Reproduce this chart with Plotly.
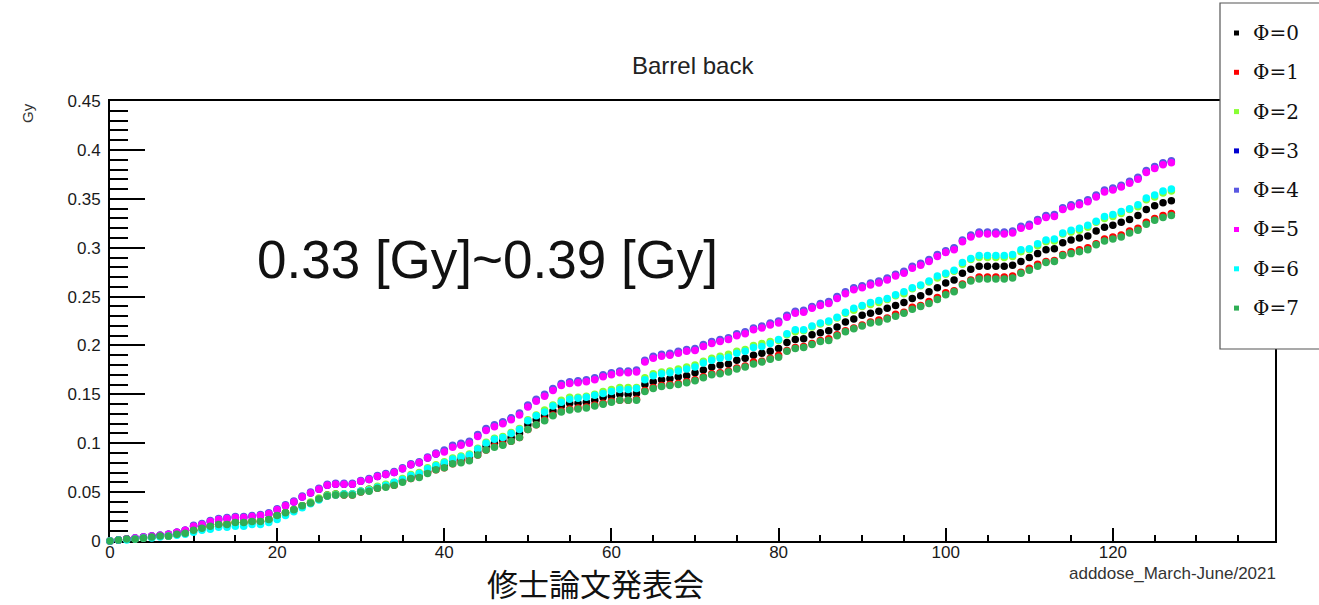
import plotly.graph_objects as go

# ---- data: accumulated dose per Phi sector, Barrel back ----
day = list(range(128))

phi0 = [0.000, 0.001, 0.002, 0.002, 0.003, 0.004, 0.005, 0.005, 0.007, 0.008,
        0.011, 0.013, 0.015, 0.017, 0.017, 0.019, 0.019, 0.020, 0.020, 0.022,
        0.026, 0.029, 0.032, 0.036, 0.039, 0.043, 0.047, 0.048, 0.048, 0.048,
        0.051, 0.053, 0.055, 0.057, 0.059, 0.062, 0.066, 0.067, 0.071, 0.075,
        0.078, 0.082, 0.084, 0.086, 0.091, 0.097, 0.100, 0.103, 0.106, 0.110,
        0.119, 0.124, 0.128, 0.133, 0.138, 0.141, 0.141, 0.142, 0.144, 0.147,
        0.148, 0.150, 0.150, 0.151, 0.160, 0.163, 0.165, 0.166, 0.168, 0.169,
        0.172, 0.175, 0.178, 0.180, 0.181, 0.185, 0.187, 0.190, 0.192, 0.194,
        0.197, 0.203, 0.206, 0.207, 0.211, 0.213, 0.215, 0.219, 0.224, 0.227,
        0.231, 0.233, 0.235, 0.238, 0.241, 0.244, 0.248, 0.251, 0.255, 0.259,
        0.264, 0.267, 0.274, 0.278, 0.281, 0.281, 0.281, 0.281, 0.282, 0.286,
        0.290, 0.294, 0.298, 0.299, 0.305, 0.308, 0.310, 0.312, 0.317, 0.321,
        0.323, 0.326, 0.329, 0.333, 0.339, 0.343, 0.346, 0.348]

phi1 = [0.000, 0.001, 0.002, 0.002, 0.003, 0.004, 0.005, 0.005, 0.007, 0.008,
        0.011, 0.013, 0.015, 0.017, 0.018, 0.019, 0.019, 0.020, 0.020, 0.022,
        0.026, 0.029, 0.032, 0.036, 0.039, 0.043, 0.046, 0.047, 0.047, 0.047,
        0.050, 0.052, 0.054, 0.056, 0.057, 0.061, 0.064, 0.066, 0.070, 0.073,
        0.075, 0.079, 0.081, 0.083, 0.088, 0.093, 0.097, 0.099, 0.102, 0.106,
        0.114, 0.119, 0.124, 0.129, 0.133, 0.135, 0.136, 0.137, 0.139, 0.141,
        0.143, 0.144, 0.144, 0.145, 0.154, 0.157, 0.159, 0.160, 0.161, 0.163,
        0.165, 0.168, 0.171, 0.172, 0.174, 0.177, 0.179, 0.183, 0.184, 0.187,
        0.190, 0.195, 0.198, 0.199, 0.202, 0.205, 0.207, 0.211, 0.215, 0.218,
        0.221, 0.224, 0.226, 0.228, 0.232, 0.234, 0.239, 0.241, 0.245, 0.249,
        0.254, 0.256, 0.263, 0.267, 0.270, 0.270, 0.270, 0.270, 0.271, 0.275,
        0.279, 0.283, 0.286, 0.287, 0.293, 0.296, 0.298, 0.300, 0.304, 0.309,
        0.311, 0.313, 0.317, 0.320, 0.326, 0.330, 0.333, 0.335]

phi2 = [0.000, 0.001, 0.002, 0.002, 0.003, 0.004, 0.005, 0.005, 0.007, 0.008,
        0.012, 0.013, 0.015, 0.017, 0.018, 0.019, 0.019, 0.020, 0.021, 0.022,
        0.026, 0.029, 0.032, 0.036, 0.040, 0.044, 0.047, 0.048, 0.048, 0.048,
        0.051, 0.053, 0.056, 0.058, 0.060, 0.064, 0.068, 0.070, 0.075, 0.078,
        0.081, 0.085, 0.087, 0.089, 0.095, 0.101, 0.105, 0.107, 0.111, 0.115,
        0.124, 0.129, 0.134, 0.139, 0.144, 0.147, 0.147, 0.148, 0.150, 0.153,
        0.155, 0.157, 0.157, 0.157, 0.167, 0.171, 0.173, 0.174, 0.176, 0.178,
        0.180, 0.184, 0.187, 0.189, 0.191, 0.194, 0.196, 0.200, 0.202, 0.204,
        0.205, 0.211, 0.214, 0.215, 0.219, 0.222, 0.224, 0.228, 0.233, 0.236,
        0.240, 0.242, 0.244, 0.247, 0.251, 0.253, 0.258, 0.261, 0.265, 0.269,
        0.273, 0.276, 0.283, 0.288, 0.290, 0.290, 0.290, 0.290, 0.291, 0.296,
        0.298, 0.302, 0.306, 0.307, 0.314, 0.316, 0.318, 0.321, 0.326, 0.330,
        0.332, 0.335, 0.339, 0.342, 0.349, 0.352, 0.356, 0.358]

phi3 = [0.000, 0.001, 0.002, 0.003, 0.004, 0.005, 0.006, 0.007, 0.009, 0.011,
        0.015, 0.017, 0.020, 0.022, 0.023, 0.024, 0.024, 0.025, 0.026, 0.028,
        0.032, 0.036, 0.040, 0.045, 0.049, 0.053, 0.057, 0.058, 0.058, 0.058,
        0.061, 0.063, 0.066, 0.068, 0.070, 0.074, 0.078, 0.080, 0.085, 0.089,
        0.092, 0.097, 0.099, 0.101, 0.108, 0.114, 0.118, 0.121, 0.125, 0.130,
        0.138, 0.144, 0.149, 0.155, 0.160, 0.162, 0.163, 0.164, 0.166, 0.169,
        0.171, 0.173, 0.173, 0.174, 0.184, 0.188, 0.190, 0.191, 0.193, 0.195,
        0.196, 0.200, 0.203, 0.205, 0.207, 0.211, 0.213, 0.217, 0.219, 0.222,
        0.224, 0.230, 0.234, 0.235, 0.239, 0.242, 0.244, 0.249, 0.254, 0.258,
        0.260, 0.263, 0.265, 0.268, 0.272, 0.275, 0.280, 0.283, 0.287, 0.292,
        0.296, 0.299, 0.307, 0.312, 0.315, 0.315, 0.315, 0.315, 0.316, 0.321,
        0.323, 0.328, 0.332, 0.333, 0.340, 0.343, 0.345, 0.348, 0.353, 0.358,
        0.360, 0.363, 0.367, 0.371, 0.378, 0.382, 0.386, 0.388]

phi4 = [0.000, 0.001, 0.002, 0.003, 0.004, 0.005, 0.006, 0.007, 0.009, 0.011,
        0.016, 0.018, 0.021, 0.023, 0.024, 0.025, 0.025, 0.026, 0.027, 0.029,
        0.033, 0.037, 0.041, 0.046, 0.050, 0.054, 0.058, 0.059, 0.059, 0.059,
        0.062, 0.064, 0.067, 0.069, 0.071, 0.075, 0.079, 0.081, 0.086, 0.090,
        0.093, 0.098, 0.100, 0.102, 0.109, 0.115, 0.119, 0.122, 0.126, 0.131,
        0.139, 0.145, 0.150, 0.156, 0.161, 0.163, 0.164, 0.165, 0.167, 0.170,
        0.172, 0.174, 0.174, 0.175, 0.185, 0.189, 0.191, 0.192, 0.194, 0.196,
        0.197, 0.201, 0.204, 0.206, 0.208, 0.212, 0.214, 0.218, 0.220, 0.223,
        0.225, 0.231, 0.235, 0.236, 0.240, 0.243, 0.245, 0.250, 0.255, 0.259,
        0.261, 0.264, 0.266, 0.269, 0.273, 0.276, 0.281, 0.284, 0.288, 0.293,
        0.297, 0.300, 0.308, 0.313, 0.316, 0.316, 0.316, 0.316, 0.317, 0.322,
        0.324, 0.329, 0.333, 0.334, 0.341, 0.344, 0.346, 0.349, 0.354, 0.359,
        0.361, 0.364, 0.368, 0.372, 0.379, 0.383, 0.387, 0.389]

phi5 = [0.000, 0.001, 0.002, 0.003, 0.004, 0.005, 0.006, 0.007, 0.009, 0.011,
        0.015, 0.017, 0.020, 0.022, 0.023, 0.024, 0.024, 0.025, 0.026, 0.028,
        0.032, 0.036, 0.040, 0.045, 0.049, 0.053, 0.057, 0.058, 0.058, 0.058,
        0.061, 0.063, 0.066, 0.068, 0.070, 0.074, 0.078, 0.080, 0.085, 0.089,
        0.091, 0.096, 0.098, 0.100, 0.107, 0.113, 0.117, 0.120, 0.124, 0.129,
        0.137, 0.143, 0.148, 0.154, 0.159, 0.161, 0.162, 0.163, 0.165, 0.168,
        0.170, 0.172, 0.172, 0.173, 0.183, 0.187, 0.189, 0.190, 0.192, 0.194,
        0.195, 0.199, 0.202, 0.204, 0.206, 0.210, 0.212, 0.216, 0.218, 0.221,
        0.223, 0.229, 0.233, 0.234, 0.238, 0.241, 0.243, 0.248, 0.253, 0.257,
        0.259, 0.262, 0.264, 0.267, 0.271, 0.274, 0.279, 0.282, 0.286, 0.291,
        0.295, 0.298, 0.306, 0.311, 0.314, 0.314, 0.314, 0.314, 0.315, 0.320,
        0.322, 0.327, 0.331, 0.332, 0.339, 0.342, 0.344, 0.347, 0.352, 0.357,
        0.359, 0.362, 0.366, 0.370, 0.377, 0.381, 0.385, 0.387]

phi6 = [0.000, 0.001, 0.001, 0.002, 0.003, 0.003, 0.004, 0.005, 0.006, 0.007,
        0.009, 0.011, 0.012, 0.014, 0.014, 0.015, 0.015, 0.017, 0.017, 0.019,
        0.022, 0.026, 0.030, 0.034, 0.038, 0.042, 0.046, 0.047, 0.048, 0.048,
        0.051, 0.052, 0.055, 0.057, 0.060, 0.063, 0.067, 0.069, 0.074, 0.077,
        0.080, 0.084, 0.086, 0.088, 0.094, 0.100, 0.104, 0.106, 0.110, 0.114,
        0.123, 0.128, 0.132, 0.138, 0.142, 0.145, 0.146, 0.147, 0.149, 0.151,
        0.153, 0.155, 0.155, 0.156, 0.165, 0.169, 0.171, 0.172, 0.174, 0.176,
        0.178, 0.182, 0.185, 0.187, 0.188, 0.192, 0.194, 0.198, 0.199, 0.202,
        0.206, 0.212, 0.216, 0.216, 0.220, 0.223, 0.225, 0.229, 0.234, 0.238,
        0.241, 0.244, 0.246, 0.248, 0.252, 0.255, 0.259, 0.262, 0.266, 0.271,
        0.274, 0.277, 0.285, 0.289, 0.292, 0.292, 0.292, 0.292, 0.293, 0.298,
        0.299, 0.304, 0.308, 0.309, 0.315, 0.318, 0.320, 0.323, 0.327, 0.332,
        0.334, 0.337, 0.340, 0.344, 0.351, 0.354, 0.358, 0.360]

phi7 = [0.000, 0.001, 0.002, 0.002, 0.003, 0.004, 0.005, 0.005, 0.007, 0.008,
        0.011, 0.013, 0.015, 0.017, 0.017, 0.019, 0.019, 0.020, 0.020, 0.022,
        0.026, 0.029, 0.032, 0.036, 0.039, 0.043, 0.046, 0.047, 0.047, 0.047,
        0.050, 0.051, 0.054, 0.055, 0.057, 0.060, 0.064, 0.065, 0.069, 0.073,
        0.075, 0.079, 0.080, 0.082, 0.088, 0.093, 0.096, 0.098, 0.102, 0.106,
        0.114, 0.119, 0.123, 0.128, 0.132, 0.134, 0.135, 0.136, 0.138, 0.140,
        0.142, 0.144, 0.144, 0.144, 0.153, 0.156, 0.158, 0.159, 0.160, 0.162,
        0.164, 0.167, 0.170, 0.171, 0.173, 0.176, 0.178, 0.181, 0.183, 0.186,
        0.188, 0.194, 0.197, 0.198, 0.201, 0.204, 0.205, 0.210, 0.214, 0.217,
        0.220, 0.223, 0.224, 0.227, 0.230, 0.233, 0.237, 0.240, 0.243, 0.247,
        0.252, 0.255, 0.262, 0.266, 0.268, 0.268, 0.268, 0.268, 0.269, 0.274,
        0.277, 0.281, 0.285, 0.286, 0.292, 0.294, 0.296, 0.298, 0.303, 0.307,
        0.309, 0.311, 0.315, 0.318, 0.324, 0.328, 0.331, 0.333]

series_names = ["Φ=0", "Φ=1", "Φ=2", "Φ=3", "Φ=4", "Φ=5", "Φ=6", "Φ=7"]
series_values = [phi0, phi1, phi2, phi3, phi4, phi5, phi6, phi7]
series_colors = ["#000000", "#ff0000", "#88ff33", "#0000d0",
                 "#5a58e2", "#ff00ff", "#00ffff", "#2fae55"]

# ---- figure geometry (pixels) ----
W, H = 1319, 605
L, R, T, B = 110, 44, 101, 64
PW, PH = W - L - R, H - T - B


def fx(px):
    return (px - L) / PW


def fy(py):
    return (H - B - py) / PH


SANS = "Liberation Sans, Arial, sans-serif"

fig = go.Figure()
for name, vals, col in zip(series_names, series_values, series_colors):
    fig.add_trace(go.Scatter(
        x=day, y=vals, mode="markers", name=name,
        marker=dict(size=7.5, color=col, line=dict(width=0)),
        cliponaxis=False, showlegend=False,
    ))

axis_common = dict(
    ticks="inside", tickwidth=1.5, tickcolor="black",
    showline=True, linewidth=2, linecolor="black", mirror=True,
    showgrid=False, zeroline=False, layer="below traces",
    tickfont=dict(family=SANS, size=17, color="#1a1a1a"),
)

fig.update_xaxes(range=[0, 139.4], tickmode="linear", tick0=0, dtick=20,
                 ticklen=13, ticklabelstandoff=-5,
                 minor=dict(dtick=5, ticks="inside", ticklen=6, tickwidth=1.5,
                            tickcolor="black", showgrid=False),
                 **axis_common)
fig.update_yaxes(range=[0, 0.4501], tickmode="linear", tick0=0, dtick=0.05,
                 ticklen=35, ticklabelstandoff=4,
                 minor=dict(dtick=0.01, ticks="inside", ticklen=18, tickwidth=1.5,
                            tickcolor="black", showgrid=False),
                 **axis_common)

annotations = [
    dict(text="Barrel back", x=fx(693), y=fy(65), xref="paper", yref="paper",
         showarrow=False, xanchor="center", yanchor="middle",
         font=dict(family=SANS, size=24, color="#222")),
    dict(text="Gy", x=fx(28), y=fy(113), xref="paper", yref="paper",
         showarrow=False, xanchor="center", yanchor="middle", textangle=-90,
         font=dict(family=SANS, size=15, color="#333")),
    dict(text="0.33 [Gy]~0.39 [Gy]", x=fx(488), y=fy(259), xref="paper", yref="paper",
         showarrow=False, xanchor="center", yanchor="middle",
         font=dict(family=SANS, size=53, color="#111")),
    dict(text="adddose_March-June/2021", x=fx(1278), y=fy(573), xref="paper", yref="paper",
         showarrow=False, xanchor="right", yanchor="middle",
         font=dict(family=SANS, size=17, color="#333")),
    dict(text="修士論文発表会", x=fx(595), y=fy(582), xref="paper", yref="paper",
         showarrow=False, xanchor="center", yanchor="middle",
         font=dict(family="Noto Sans CJK JP, sans-serif", size=31, color="#111")),
]

# legend panel drawn by hand: framed box with small square swatches
shapes = [dict(type="rect", xref="paper", yref="paper",
               x0=fx(1220), x1=fx(1340), y0=fy(349), y1=fy(3),
               fillcolor="white", line=dict(color="#555", width=1.2), layer="above")]
for i, (name, col) in enumerate(zip(series_names, series_colors)):
    cy = 33 + i * 39.3
    shapes.append(dict(type="rect", xref="paper", yref="paper",
                       x0=fx(1234), x1=fx(1239), y0=fy(cy + 2.5), y1=fy(cy - 2.5),
                       fillcolor=col, line=dict(width=0), layer="above"))
    annotations.append(dict(text=name, x=fx(1251), y=fy(cy), xref="paper", yref="paper",
                            showarrow=False, xanchor="left", yanchor="middle",
                            font=dict(family="DejaVu Serif, serif", size=20, color="#111")))

fig.update_layout(
    width=W, height=H,
    margin=dict(l=L, r=R, t=T, b=B),
    paper_bgcolor="white", plot_bgcolor="white",
    showlegend=False,
    annotations=annotations, shapes=shapes,
)

fig.write_html("out.html")
